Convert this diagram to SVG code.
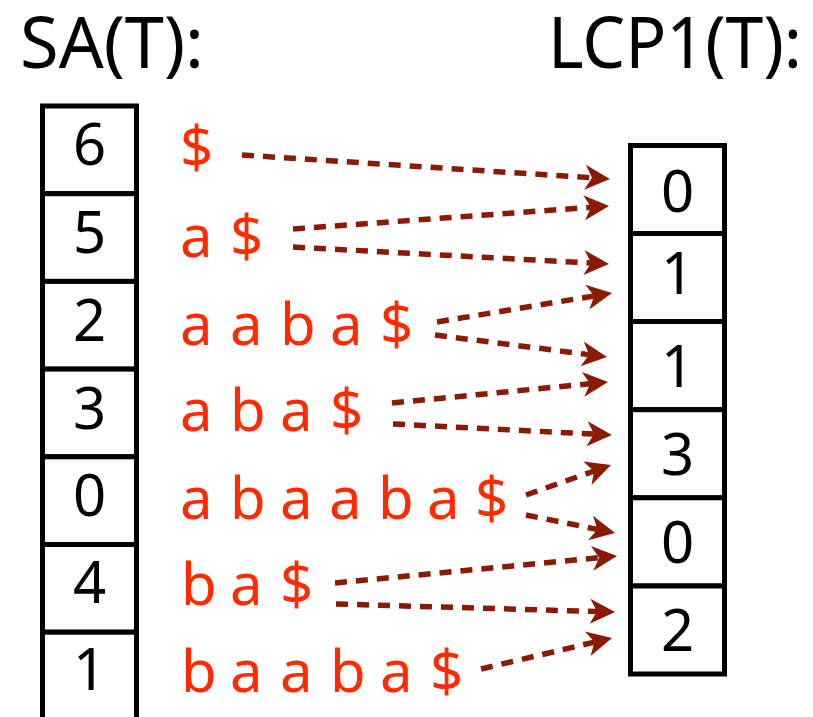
<svg xmlns="http://www.w3.org/2000/svg" width="813" height="717" viewBox="0 0 813 717">
<style>
.title{font-family:"Noto Sans","Open Sans",sans-serif;font-size:71px;fill:#000}
.num{font-family:"Noto Sans","Open Sans",sans-serif;font-size:58px;fill:#000;text-anchor:middle}
.suf{font-family:"Noto Sans","Open Sans",sans-serif;font-size:58px;fill:#ff2a00}
.cell{fill:#fff;stroke:#000;stroke-width:5}
.arr{fill:none;stroke:#8b1a04;stroke-width:5.5;stroke-dasharray:12 9}
</style>
<defs>
<marker id="ah" markerUnits="userSpaceOnUse" viewBox="-8 -14 28 28" markerWidth="28" markerHeight="28" refX="0" refY="0" orient="auto">
<path d="M18,0 L-7,-12.5 L0,0 L-7,12.5 Z" fill="#8b1a04"/>
</marker>
</defs>
<rect width="813" height="717" fill="#fff"/>
<text class="title" x="20" y="68" textLength="184" lengthAdjust="spacingAndGlyphs">SA(T):</text>
<text class="title" x="548" y="68" textLength="254" lengthAdjust="spacingAndGlyphs">LCP1(T):</text>
<g id="sa">
<g id="sa0"><rect class="cell" x="42.5" y="106" width="94" height="87.7"/><text class="num" x="89.5" y="165">6</text></g>
<g id="sa1"><rect class="cell" x="42.5" y="193.7" width="94" height="87.7"/><text class="num" x="89.5" y="253">5</text></g>
<g id="sa2"><rect class="cell" x="42.5" y="281.4" width="94" height="87.7"/><text class="num" x="89.5" y="341">2</text></g>
<g id="sa3"><rect class="cell" x="42.5" y="369.1" width="94" height="87.7"/><text class="num" x="89.5" y="429">3</text></g>
<g id="sa4"><rect class="cell" x="42.5" y="456.8" width="94" height="87.7"/><text class="num" x="89.5" y="516">0</text></g>
<g id="sa5"><rect class="cell" x="42.5" y="544.5" width="94" height="87.7"/><text class="num" x="89.5" y="603">4</text></g>
<g id="sa6"><rect class="cell" x="42.5" y="632.2" width="94" height="90"/><text class="num" x="89.5" y="690">1</text></g>
</g>
<g id="lcp">
<g id="lcp0"><rect class="cell" x="630.5" y="145.5" width="94" height="88"/><text class="num" x="677.5" y="212">0</text></g>
<g id="lcp1"><rect class="cell" x="630.5" y="233.5" width="94" height="88"/><text class="num" x="677.5" y="294">1</text></g>
<g id="lcp2"><rect class="cell" x="630.5" y="321.5" width="94" height="88.2"/><text class="num" x="677.5" y="387">1</text></g>
<g id="lcp3"><rect class="cell" x="630.5" y="409.7" width="94" height="88.1"/><text class="num" x="677.5" y="475">3</text></g>
<g id="lcp4"><rect class="cell" x="630.5" y="497.8" width="94" height="88.2"/><text class="num" x="677.5" y="563">0</text></g>
<g id="lcp5"><rect class="cell" x="630.5" y="586" width="94" height="88"/><text class="num" x="677.5" y="651">2</text></g>
</g>
<g id="suffixes">
<g id="s0"><text class="suf" x="180" y="168">$</text></g>
<g id="s1"><text class="suf" x="180 205 230" y="257">a $</text></g>
<g id="s2"><text class="suf" x="180 205 230 255 280 305 330 355 380" y="345">a a b a $</text></g>
<g id="s3"><text class="suf" x="180 205 230 255 280 305 330" y="431">a b a $</text></g>
<g id="s4"><text class="suf" x="180 205 230 255 280 305 329 354 378 403 427 451 475" y="519">a b a a b a $</text></g>
<g id="s5"><text class="suf" x="181 205 230 255 280" y="605">b a $</text></g>
<g id="s6"><text class="suf" x="181 205 230 255 280 305 330 355 380 405 430" y="692">b a a b a $</text></g>
</g>
<g id="connectors">
<line class="arr" x1="242" y1="155" x2="592" y2="177.8" marker-end="url(#ah)"/>
<line class="arr" x1="293" y1="229" x2="591.1" y2="207.3" marker-end="url(#ah)"/>
<line class="arr" x1="293" y1="247" x2="591" y2="263" marker-end="url(#ah)"/>
<line class="arr" x1="437" y1="322" x2="594.2" y2="295.9" marker-end="url(#ah)"/>
<line class="arr" x1="435" y1="335" x2="589.1" y2="354.7" marker-end="url(#ah)"/>
<line class="arr" x1="392" y1="403" x2="590.1" y2="383.7" marker-end="url(#ah)"/>
<line class="arr" x1="393" y1="424" x2="594" y2="434.1" marker-end="url(#ah)"/>
<line class="arr" x1="526" y1="495" x2="594" y2="471" marker-end="url(#ah)"/>
<line class="arr" x1="526" y1="515" x2="597.4" y2="529.4" marker-end="url(#ah)"/>
<line class="arr" x1="335" y1="583" x2="599.1" y2="557.7" marker-end="url(#ah)"/>
<line class="arr" x1="336" y1="604" x2="597" y2="611.5" marker-end="url(#ah)"/>
<line class="arr" x1="481" y1="669" x2="594.5" y2="642.1" marker-end="url(#ah)"/>
</g>
</svg>
